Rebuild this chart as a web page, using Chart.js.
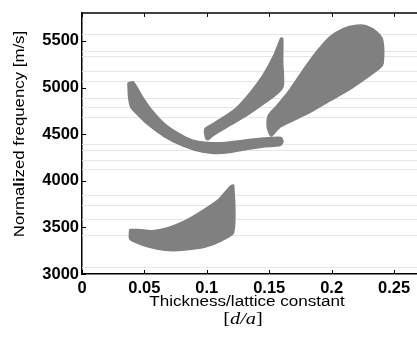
<!DOCTYPE html>
<html>
<head>
<meta charset="utf-8">
<script src="https://cdn.jsdelivr.net/npm/chart.js@4.4.0/dist/chart.umd.min.js"></script>
<style>
    html, body { margin: 0; padding: 0; background: #fff; overflow: hidden; }
    #wrap { width: 417px; height: 345px; position: relative; }
</style>
</head>
<body>
<div id="wrap"><canvas id="band-chart"></canvas></div>
<script>
// axis ticks
const freqTicks = [3000, 3500, 4000, 4500, 5000, 5500]
const freqLabels = ['3000', '3500', '4000', '4500', '5000', '5500']
const thicknessTicks = [0, 0.05, 0.1, 0.15, 0.2, 0.25]
const thicknessLabels = ['0', '0.05', '0.1', '0.15', '0.2', '0.25']

// faint horizontal lines of the scanned figure (m/s)
const faintLines = [3071, 3420, 3595, 3737, 3843, 4124, 4223, 4329, 4392, 4688, 4786, 4885, 5075, 5181, 5333, 5392, 5569]

// band outlines: thickness d/a and normalized frequency
const lowBandD = [0.0382, 0.0454, 0.0561, 0.0694, 0.0827, 0.0961, 0.1095, 0.1188, 0.1215, 0.1215, 0.1121, 0.0988, 0.0801, 0.0667, 0.0534, 0.0427, 0.0382]
const lowBandF = [3476, 3476, 3465, 3500, 3571, 3676, 3800, 3941, 3951, 3447, 3359, 3289, 3254, 3254, 3289, 3341, 3377]

const curveBandD = [0.0368, 0.0374, 0.0392, 0.0441, 0.0505, 0.0585, 0.0665, 0.0769, 0.0905, 0.1041, 0.1169, 0.1330, 0.1466, 0.1586, 0.1610, 0.1594, 0.1466, 0.1306, 0.1145, 0.1009, 0.0881, 0.0769, 0.0665, 0.0561, 0.0489, 0.0433, 0.0409]
const curveBandF = [5051, 4892, 4786, 4712, 4628, 4543, 4469, 4395, 4327, 4295, 4300, 4337, 4364, 4379, 4416, 4464, 4459, 4438, 4411, 4411, 4438, 4512, 4607, 4755, 4892, 5019, 5061]

const midBandD = [0.1594, 0.1608, 0.1608, 0.1612, 0.1560, 0.1452, 0.1319, 0.1185, 0.1052, 0.1012, 0.0993, 0.0985, 0.1025, 0.1132, 0.1239, 0.1346, 0.1452, 0.1532, 0.1586]
const midBandF = [5534, 5526, 5280, 5016, 4927, 4821, 4699, 4593, 4487, 4441, 4451, 4557, 4593, 4681, 4786, 4945, 5138, 5333, 5509]

const upperBandD = [0.1506, 0.1484, 0.1492, 0.1560, 0.1666, 0.1773, 0.1880, 0.1986, 0.2093, 0.2200, 0.2280, 0.2361, 0.2409, 0.2413, 0.2387, 0.2280, 0.2147, 0.1986, 0.1826, 0.1693, 0.1586, 0.1520]
const upperBandF = [4487, 4575, 4699, 4804, 4980, 5191, 5386, 5544, 5632, 5667, 5660, 5597, 5508, 5262, 5209, 5103, 4980, 4857, 4733, 4646, 4575, 4480]

const bandGray = 'rgb(128,128,128)'

function outline(ds, fs) {
    let pts = ds.map((d, i) => ({ x: d, y: fs[i] }))
    pts.push(pts[0])
    return pts
}

function band(ds, fs) {
    return {
        data: outline(ds, fs),
        showLine: true,
        fill: 'shape',
        backgroundColor: bandGray,
        borderColor: bandGray,
        borderWidth: 1.5,
        pointRadius: 0,
        tension: 0.25
    }
}

// text runs with mixed fonts, stretched a bit sideways like the scan
function drawRun(ctx, parts, cx, baseline, sx) {
    let total = 0
    parts.forEach(p => { ctx.font = p.font; total += ctx.measureText(p.text).width })
    ctx.save()
    ctx.translate(cx, baseline)
    ctx.scale(sx, 1)
    ctx.textAlign = 'left'
    ctx.textBaseline = 'alphabetic'
    ctx.fillStyle = '#000'
    let x = -total / 2
    parts.forEach(p => {
        ctx.font = p.font
        ctx.fillText(p.text, x, 0)
        x += ctx.measureText(p.text).width
    })
    ctx.restore()
}

const framePlugin = {
    id: 'frame',
    beforeDatasetsDraw(chart) {
        let ctx = chart.ctx
        let area = chart.chartArea
        let y = chart.scales.y
        ctx.save()
        ctx.strokeStyle = '#e6e6e6'
        ctx.lineWidth = 1
        faintLines.forEach(v => {
            let py = Math.round(y.getPixelForValue(v)) + 0.5
            ctx.beginPath()
            ctx.moveTo(area.left, py)
            ctx.lineTo(area.right, py)
            ctx.stroke()
        })
        ctx.restore()
    },
    afterDraw(chart) {
        let ctx = chart.ctx
        let area = chart.chartArea
        let x = chart.scales.x
        let y = chart.scales.y
        ctx.save()
        ctx.strokeStyle = '#000'
        ctx.lineWidth = 1.5
        ctx.beginPath()
        ctx.moveTo(area.left, area.top)
        ctx.lineTo(area.right, area.top)
        ctx.stroke()
        // inward tick marks
        ctx.lineWidth = 1
        thicknessTicks.forEach(v => {
            let px = Math.round(x.getPixelForValue(v)) + 0.5
            ctx.beginPath()
            ctx.moveTo(px, area.bottom)
            ctx.lineTo(px, area.bottom - 4)
            ctx.moveTo(px, area.top)
            ctx.lineTo(px, area.top + 4)
            ctx.stroke()
        })
        freqTicks.forEach(v => {
            let py = Math.round(y.getPixelForValue(v)) + 0.5
            ctx.beginPath()
            ctx.moveTo(area.left, py)
            ctx.lineTo(area.left + 4, py)
            ctx.stroke()
        })
        ctx.restore()

        let sans = '"Liberation Sans", Arial, sans-serif'
        let serif = '"Liberation Serif", "Times New Roman", serif'
        drawRun(ctx, [{ text: 'Thickness/lattice constant', font: '14px ' + sans }], 247, 306, 1.22)
        drawRun(ctx, [
            { text: '[', font: '17px ' + serif },
            { text: 'd/a', font: 'italic 17px ' + serif },
            { text: ']', font: '17px ' + serif }
        ], 243, 324, 1.2)

        ctx.save()
        ctx.translate(24.3, 134)
        ctx.rotate(-Math.PI / 2)
        drawRun(ctx, [
            { text: 'Norma', font: '14px ' + sans },
            { text: 'li', font: 'bold 14px ' + sans },
            { text: 'zed frequency [m/s]', font: '14px ' + sans }
        ], 0, 0, 1.2)
        ctx.restore()
    }
}

function generateChart() {
    let chart = document.getElementById('band-chart')
    new Chart(chart, {
        type: 'scatter',
        data: {
            datasets: [
                band(lowBandD, lowBandF),
                band(curveBandD, curveBandF),
                band(midBandD, midBandF),
                band(upperBandD, upperBandF)
            ]
        },
        options: {
            responsive: true,
            maintainAspectRatio: false,
            animation: false,
            layout: { padding: { top: 10, left: 0, right: 0, bottom: 0 } },
            scales: {
                x: {
                    type: 'linear',
                    min: 0,
                    max: 0.2684,
                    afterBuildTicks: s => { s.ticks = thicknessTicks.map(v => ({ value: v })) },
                    afterFit: s => { s.height = 71 },
                    grid: { display: false, drawTicks: false },
                    border: { display: true, color: '#000', width: 1.5 },
                    ticks: {
                        color: '#000',
                        padding: 5,
                        maxRotation: 0,
                        autoSkip: false,
                        font: { family: '"Liberation Sans", Arial, sans-serif', size: 16.5, weight: 'bold' },
                        callback: (v, i) => thicknessLabels[i]
                    }
                },
                y: {
                    min: 3000,
                    max: 5800,
                    afterBuildTicks: s => { s.ticks = freqTicks.map(v => ({ value: v })) },
                    afterFit: s => { s.width = 82 },
                    grid: { display: false, drawTicks: false },
                    border: { display: true, color: '#000', width: 1.5 },
                    ticks: {
                        color: '#000',
                        padding: 3,
                        autoSkip: false,
                        font: { family: '"Liberation Sans", Arial, sans-serif', size: 16.5, weight: 'bold' },
                        callback: (v, i) => freqLabels[i]
                    }
                }
            },
            plugins: {
                legend: { display: false },
                tooltip: { enabled: false }
            }
        },
        plugins: [framePlugin]
    })
}

generateChart()
</script>
</body>
</html>
